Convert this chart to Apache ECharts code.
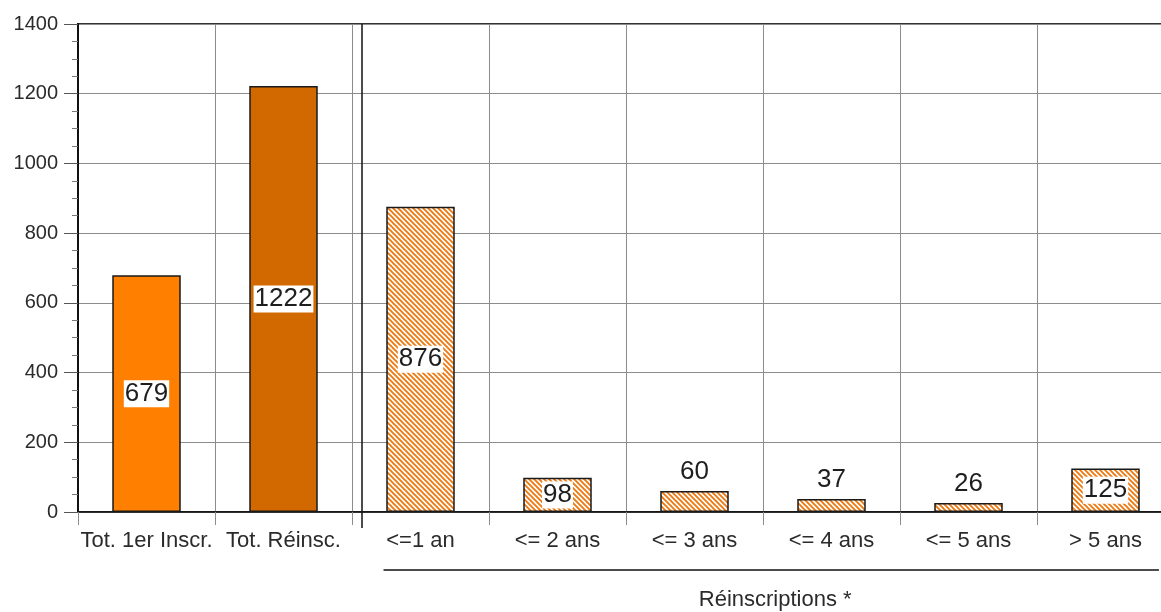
<!DOCTYPE html>
<html>
<head>
<meta charset="utf-8">
<script src="https://cdn.jsdelivr.net/npm/echarts@6/dist/echarts.min.js"></script>
<style>
  html, body { margin: 0; padding: 0; background: #fff; }
  #chart { width: 1161px; height: 612px; }
</style>
</head>
<body>
<div id="chart"></div>
<script>
// Inscriptions: totals, then re-enrolments broken down by seniority
const categories = ['Tot. 1er Inscr.', 'Tot. Réinsc.', '<=1 an', '<= 2 ans', '<= 3 ans', '<= 4 ans', '<= 5 ans', '> 5 ans'];
const values = [679, 1222, 876, 98, 60, 37, 26, 125];
const yTicks = { min: 0, max: 1400, interval: 200 };
const groupTitle = 'Réinscriptions *';

const FONT = '"Liberation Sans", Arial, sans-serif';
const TEXT = '#2b2b2b';
const GRID_GRAY = '#8c8c8c';

// Diagonal hatch tile for the per-seniority bars
function hatchTile() {
  const s = 5;
  const c = document.createElement('canvas');
  c.width = s; c.height = s;
  const g = c.getContext('2d');
  g.fillStyle = '#ffffff';
  g.fillRect(0, 0, s, s);
  g.strokeStyle = '#ee7a14';
  g.lineWidth = 1.9;
  g.beginPath();
  g.moveTo(-1, -1); g.lineTo(s + 1, s + 1);
  g.moveTo(-1, s - 1); g.lineTo(1, s + 1);
  g.moveTo(s - 1, -1); g.lineTo(s + 1, 1);
  g.stroke();
  return c;
}
const hatch = { image: hatchTile(), repeat: 'repeat' };

const solidColors = ['#ff7f00', '#d26900'];

const barData = values.map((v, i) => {
  const inside = v >= 90;
  return {
    value: v,
    itemStyle: {
      color: i < 2 ? solidColors[i] : hatch,
      borderColor: '#1a1a1a',
      borderWidth: 1.5
    },
    label: inside ? {
      position: 'inside',
      backgroundColor: '#ffffff',
      padding: [1, 1, 0, 1]
    } : {
      position: 'top',
      distance: 6
    }
  };
});

const chart = echarts.init(document.getElementById('chart'), null, { renderer: 'canvas' });

chart.setOption({
  animation: false,
  backgroundColor: '#ffffff',
  textStyle: { fontFamily: FONT },
  grid: {
    left: 78, top: 24, width: 1096, height: 488,
    outerBoundsMode: 'none',
    containLabel: false,
    show: true, borderColor: '#333', borderWidth: 2, backgroundColor: 'transparent'
  },
  xAxis: {
    type: 'category',
    data: categories,
    boundaryGap: true,
    axisLine: { lineStyle: { color: '#111', width: 1.5 } },
    axisTick: { show: true, length: 13, lineStyle: { color: GRID_GRAY, width: 1 } },
    splitLine: { show: true, lineStyle: { color: GRID_GRAY, width: 1 } },
    axisLabel: { fontSize: 22, color: TEXT, fontFamily: FONT, margin: 18, interval: 0 }
  },
  yAxis: {
    type: 'value',
    min: yTicks.min, max: yTicks.max, interval: yTicks.interval,
    axisLine: { show: true, lineStyle: { color: '#111', width: 2 } },
    axisTick: { show: true, length: 14, lineStyle: { color: '#555', width: 1 } },
    minorTick: { show: true, splitNumber: 4, length: 6, lineStyle: { color: '#777', width: 1 } },
    splitLine: { show: true, lineStyle: { color: GRID_GRAY, width: 1 } },
    axisLabel: {
      fontSize: 20, color: TEXT, fontFamily: FONT, margin: 20,
      formatter: (v) => String(v)
    }
  },
  series: [{
    type: 'bar',
    barWidth: '50%',
    data: barData,
    z: 3,
    label: {
      show: true,
      fontSize: 26,
      fontFamily: FONT,
      color: '#1e1e1e'
    }
  }]
});

// Separator between totals and the detailed breakdown, and the group caption
function drawExtras() {
  const c1 = chart.convertToPixel({ xAxisIndex: 0 }, 1);
  const c2 = chart.convertToPixel({ xAxisIndex: 0 }, 2);
  const c7 = chart.convertToPixel({ xAxisIndex: 0 }, 7);
  const bw = c2 - c1;
  const yTop = chart.convertToPixel({ yAxisIndex: 0 }, yTicks.max);
  const yBase = chart.convertToPixel({ yAxisIndex: 0 }, 0);
  const sepX = c1 + bw / 2 + 10;
  const lineY = yBase + 58;
  const x0 = c2 - 0.27 * bw;
  const x1 = c7 + 0.39 * bw;
  chart.setOption({
    graphic: [
      {
        type: 'line', z: 10,
        shape: { x1: sepX, y1: yTop, x2: sepX, y2: yBase + 16 },
        style: { stroke: '#111', lineWidth: 1.5 }
      },
      {
        type: 'line', z: 10,
        shape: { x1: x0, y1: lineY, x2: x1, y2: lineY },
        style: { stroke: '#111', lineWidth: 1.5 }
      },
      {
        type: 'text', z: 10,
        x: (x0 + x1) / 2 + 4, y: lineY + 30,
        style: {
          text: groupTitle, fill: TEXT, font: '22px ' + FONT,
          align: 'center', verticalAlign: 'middle'
        }
      }
    ]
  });
}
drawExtras();
</script>
</body>
</html>
